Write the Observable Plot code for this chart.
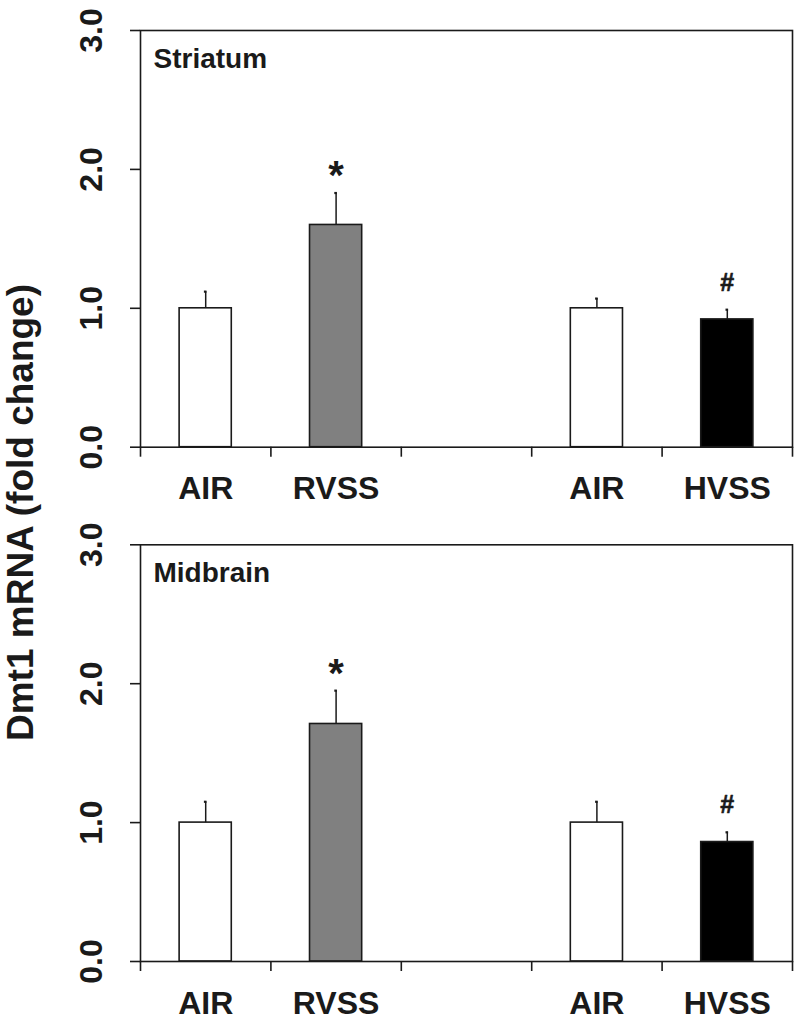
<!DOCTYPE html>
<html>
<head>
<meta charset="utf-8">
<script src="https://cdn.jsdelivr.net/npm/d3@7"></script>
<script src="https://cdn.jsdelivr.net/npm/@observablehq/plot@0.6"></script>
<style>
  html, body { margin: 0; padding: 0; background: #fff; }
  #wrap { position: relative; width: 800px; height: 1023px; font-family: "Liberation Sans", Arial, sans-serif; }
  #p1, #p2, #ylab { position: absolute; left: 0; }
  #p1 { top: 0; }
  #p2 { top: 512px; }
  #ylab { top: 0; pointer-events: none; }
</style>
</head>
<body>
<div id="wrap">
  <div id="p1"></div>
  <div id="p2"></div>
  <svg id="ylab" width="800" height="1023"></svg>
</div>
<script>
// ---- Data ----
const slots = ["AIR", "RVSS", "", "AIR", "HVSS"];          // x categories (empty = gap)
const fills = ["white", "#808080", null, "white", "black"];
const markers = ["", "*", "", "", "#"];
const striatumMean = [1.00, 1.60, null, 1.00, 0.92];
const striatumSEM  = [0.12, 0.23, null, 0.07, 0.07];
const midbrainMean = [1.00, 1.71, null, 1.00, 0.86];
const midbrainSEM  = [0.15, 0.24, null, 0.15, 0.07];
const yTicks = [0, 1, 2, 3];
const yTitle = "Dmt1 mRNA (fold change)";

const FONT = '"Liberation Sans", Arial, sans-serif';
const INK = "#1a1a1a";

function panel(title, means, sems, opts) {
  const rows = slots.map((c, i) => ({i, c, v: means[i], e: sems[i], m: markers[i], fill: fills[i]}));
  const bars = rows.filter(d => d.v != null);
  const cx = d => d.i + 0.5;
  return Plot.plot({
    width: 800,
    height: opts.height,
    marginTop: opts.marginTop,
    marginBottom: opts.marginBottom,
    marginLeft: 140,
    marginRight: 8,
    style: {fontFamily: FONT, background: "white", color: INK},
    x: {domain: [0, slots.length], axis: null},
    y: {domain: [0, 3], axis: null},
    color: {type: "identity"},
    marks: [
      Plot.rectY(bars, {x1: d => d.i + 0.3, x2: d => d.i + 0.7, y1: 0, y2: "v", fill: "fill", stroke: INK, strokeWidth: 1.6}),
      Plot.ruleX(bars, {x: cx, y1: "v", y2: d => d.v + d.e, stroke: INK, strokeWidth: 1.5}),
      Plot.ruleY(bars, {y: d => d.v + d.e, x1: d => d.i + 0.49, x2: d => d.i + 0.51, stroke: INK, strokeWidth: 2.2}),
      Plot.text(bars.filter(d => d.m === "*"), {x: cx, y: d => d.v + d.e, text: "m", lineAnchor: "bottom", dy: -4, fontSize: 40, fontWeight: "bold", fill: INK}),
      Plot.text(bars.filter(d => d.m === "#"), {x: cx, y: d => d.v + d.e, text: "m", lineAnchor: "bottom", dy: -19, fontSize: 25, fontWeight: "bold", fill: INK, stroke: INK, strokeWidth: 0.6}),
      Plot.frame({stroke: INK, strokeWidth: 1.6}),
      Plot.axisX({ticks: d3.range(0, slots.length + 1), tickSize: 10, tickFormat: () => "", label: null, stroke: INK, strokeWidth: 1.6, anchor: "bottom"}),
      Plot.axisY({ticks: yTicks, tickSize: 10, tickFormat: () => "", label: null, stroke: INK, strokeWidth: 1.6, anchor: "left"}),
      Plot.text(yTicks, {y: d => d, text: d => d.toFixed(1), frameAnchor: "left", dx: -49, rotate: -90, textAnchor: "middle", lineAnchor: "middle", fontSize: 32, fontWeight: "bold", fill: INK}),
      Plot.text(rows.filter(d => d.c !== ""), {x: cx, text: "c", frameAnchor: "bottom", dy: 42, lineAnchor: "middle", fontSize: 32, fontWeight: "bold", fill: INK}),
      Plot.text([title], {text: d => d, frameAnchor: "top-left", dx: 13, dy: 37, lineAnchor: "bottom", textAnchor: "start", fontSize: 28, fontWeight: "bold", fill: INK})
    ]
  });
}

document.getElementById("p1").appendChild(
  panel("Striatum", striatumMean, striatumSEM, {height: 512, marginTop: 30, marginBottom: 65.3})
);
document.getElementById("p2").appendChild(
  panel("Midbrain", midbrainMean, midbrainSEM, {height: 511, marginTop: 32.3, marginBottom: 62})
);

// shared y-axis title
const ylab = d3.select("#ylab");
ylab.append("text")
  .attr("transform", "translate(33,512.5) rotate(-90)")
  .attr("text-anchor", "middle")
  .attr("font-family", FONT)
  .attr("font-size", 37)
  .attr("font-weight", "bold")
  .attr("fill", INK)
  .text(yTitle);
</script>
</body>
</html>
